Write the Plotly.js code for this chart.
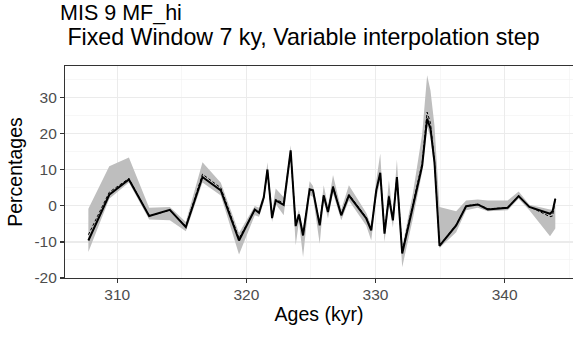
<!DOCTYPE html>
<html>
<head>
<meta charset="utf-8">
<script src="https://cdn.plot.ly/plotly-3.0.1.min.js"></script>
<style>
  html, body { margin: 0; padding: 0; background: #fff; }
  #chart { width: 576px; height: 337px; }
</style>
</head>
<body>
<div id="chart"></div>
<script>
// Ages (kyr) of each interpolated sample
const ages = [
  307.76, 309.38, 310.90, 312.47, 314.07, 315.31, 316.60, 318.02, 319.43, 320.65,
  320.98, 321.35, 321.63, 321.99, 322.27, 322.89, 323.43, 323.82, 324.07, 324.39,
  324.90, 325.16, 325.68, 325.99, 326.32, 326.71, 327.35, 327.94, 329.29, 329.67,
  330.06, 330.37, 330.70, 331.04, 331.35, 331.66, 332.07, 332.90, 333.62, 334.00,
  334.26, 334.57, 334.96, 336.25, 337.02, 337.92, 338.70, 340.24, 341.09, 341.92,
  343.52, 343.72, 343.93
];

// Main estimate (solid line), percentages
const estimate = [
  -9.6, 3.1, 7.3, -2.8, -1.1, -5.9, 8.0, 4.3, -9.6, -1.0,
  -1.9, 2.4, 10.1, -3.4, 1.5, 0.3, 15.4, -5.6, -2.4, -8.2,
  4.6, 4.3, -5.4, 2.9, -1.7, 5.2, -2.6, 2.9, -3.5, -6.8,
  4.3, 9.2, -7.7, 2.4, -4.0, 8.0, -13.2, 0.1, 11.2, 24.2,
  21.4, 12.1, -11.1, -5.4, -0.1, 0.4, -1.0, -0.5, 2.7, -0.3,
  -2.2, -1.5, 2.0
];

// Alternative estimate (dashed line)
const altEstimate = [
  -8.0, 3.8, 7.6, -2.8, -1.2, -5.6, 8.8, 5.0, -9.0, -1.2,
  -1.6, 2.4, 9.8, -3.0, 1.8, 0.8, 14.8, -5.0, -2.6, -7.8,
  4.5, 4.2, -5.0, 3.0, -1.5, 5.5, -2.4, 3.2, -3.2, -6.5,
  4.0, 9.0, -7.4, 2.8, -3.8, 8.2, -12.6, 0.5, 12.0, 26.0,
  23.0, 12.5, -11.0, -5.2, 0.0, 0.5, -0.8, -0.5, 2.8, -0.2,
  -3.0, -2.8, 2.0
];

// Envelope bounds (grey band)
const bandLow = [
  -12.8, 2.0, 6.5, -3.8, -4.0, -7.0, 6.5, 2.9, -13.5, -2.6,
  -3.0, 1.0, 8.5, -4.5, 0.5, -2.6, 13.0, -10.9, -4.5, -14.2,
  3.0, 2.5, -10.5, 1.5, -3.5, 3.5, -4.0, 1.5, -5.5, -9.6,
  2.0, 7.0, -10.0, 0.5, -6.0, 6.0, -17.0, -3.5, 9.5, 22.0,
  19.0, 10.0, -11.7, -7.3, -1.2, -0.5, -1.5, -1.2, 2.0, -1.2,
  -8.4, -7.5, -6.3
];
const bandHigh = [
  -0.8, 11.0, 13.4, -0.5, -0.3, -4.5, 12.1, 6.4, -7.5, 0.0,
  -0.5, 3.5, 12.1, -1.5, 4.8, 2.4, 16.8, -4.0, -1.0, -6.5,
  6.8, 5.5, -4.0, 5.7, 0.0, 8.6, -1.0, 5.7, -2.0, -5.5,
  7.0, 14.5, -6.0, 7.1, -2.5, 12.9, -11.5, 3.5, 20.0, 36.2,
  32.0, 22.3, -0.3, -1.5, 1.5, 1.8, 1.5, 1.5, 4.0, 0.3,
  -1.0, -1.0, 2.3
];

const xTickVals = [310, 320, 330, 340];
const yTickVals = [-20, -10, 0, 10, 20, 30];

const band = '#BEBEBE';
const ink = '#000000';

const traces = [
  { x: ages, y: bandLow, type: 'scatter', mode: 'lines',
    line: { width: 0, color: band }, hoverinfo: 'skip', showlegend: false },
  { x: ages, y: bandHigh, type: 'scatter', mode: 'lines', fill: 'tonexty',
    fillcolor: band, line: { width: 0, color: band }, hoverinfo: 'skip', showlegend: false },
  { x: ages, y: estimate, type: 'scatter', mode: 'lines',
    line: { color: ink, width: 2 }, showlegend: false },
  { x: ages, y: altEstimate, type: 'scatter', mode: 'lines',
    line: { color: ink, width: 1, dash: '3px,2px' }, showlegend: false }
];

const fam = 'Liberation Sans, Arial, sans-serif';
const axisFont = { family: fam, size: 15.5, color: '#4D4D4D' };
const titleFont = { family: fam, size: 19.5, color: '#000' };

const layout = {
  width: 576, height: 337,
  margin: { l: 65, r: 3, t: 66, b: 59, pad: 0 },
  paper_bgcolor: '#fff', plot_bgcolor: '#fff',
  title: {
    text: 'MIS 9 MF_hi',
    font: { family: fam, size: 21.5, color: '#000' },
    xref: 'container', yref: 'container',
    x: 60 / 576, xanchor: 'left',
    y: 1 - 5 / 337, yanchor: 'top'
  },
  annotations: [{
    text: '\u00a0Fixed Window 7 ky, Variable interpolation step',
    xref: 'paper', yref: 'paper',
    x: -6 / 508, xanchor: 'left',
    y: 1 + 14 / 212, yanchor: 'bottom',
    showarrow: false,
    font: { family: fam, size: 23.2, color: '#000' }
  }],
  xaxis: {
    range: [305.95, 345.3],
    tickvals: xTickVals, ticktext: xTickVals.map(String),
    ticks: 'outside', ticklen: 4, tickwidth: 1.1, tickcolor: '#333',
    tickfont: axisFont, ticklabelstandoff: -2,
    showgrid: true, gridcolor: '#EBEBEB', gridwidth: 1.1,
    minor: { dtick: 5, tick0: 305, showgrid: true, gridcolor: '#F2F2F2', gridwidth: 0.6, ticks: '' },
    showline: true, linecolor: '#333', linewidth: 1.1, mirror: true,
    zeroline: false,
    title: { text: 'Ages (kyr)', font: titleFont, standoff: 1 }
  },
  yaxis: {
    range: [-20, 38.8],
    tickvals: yTickVals, ticktext: yTickVals.map(String),
    ticks: 'outside', ticklen: 4, tickwidth: 1.1, tickcolor: '#333',
    tickfont: axisFont,
    showgrid: true, gridcolor: '#EBEBEB', gridwidth: 1.1,
    minor: { dtick: 5, tick0: -15, showgrid: true, gridcolor: '#F2F2F2', gridwidth: 0.6, ticks: '' },
    showline: true, linecolor: '#333', linewidth: 1.1,
    zeroline: false,
    title: { text: 'Percentages', font: titleFont, standoff: 6 }
  }
};

Plotly.newPlot('chart', traces, layout, { staticPlot: true, displayModeBar: false });
</script>
</body>
</html>
